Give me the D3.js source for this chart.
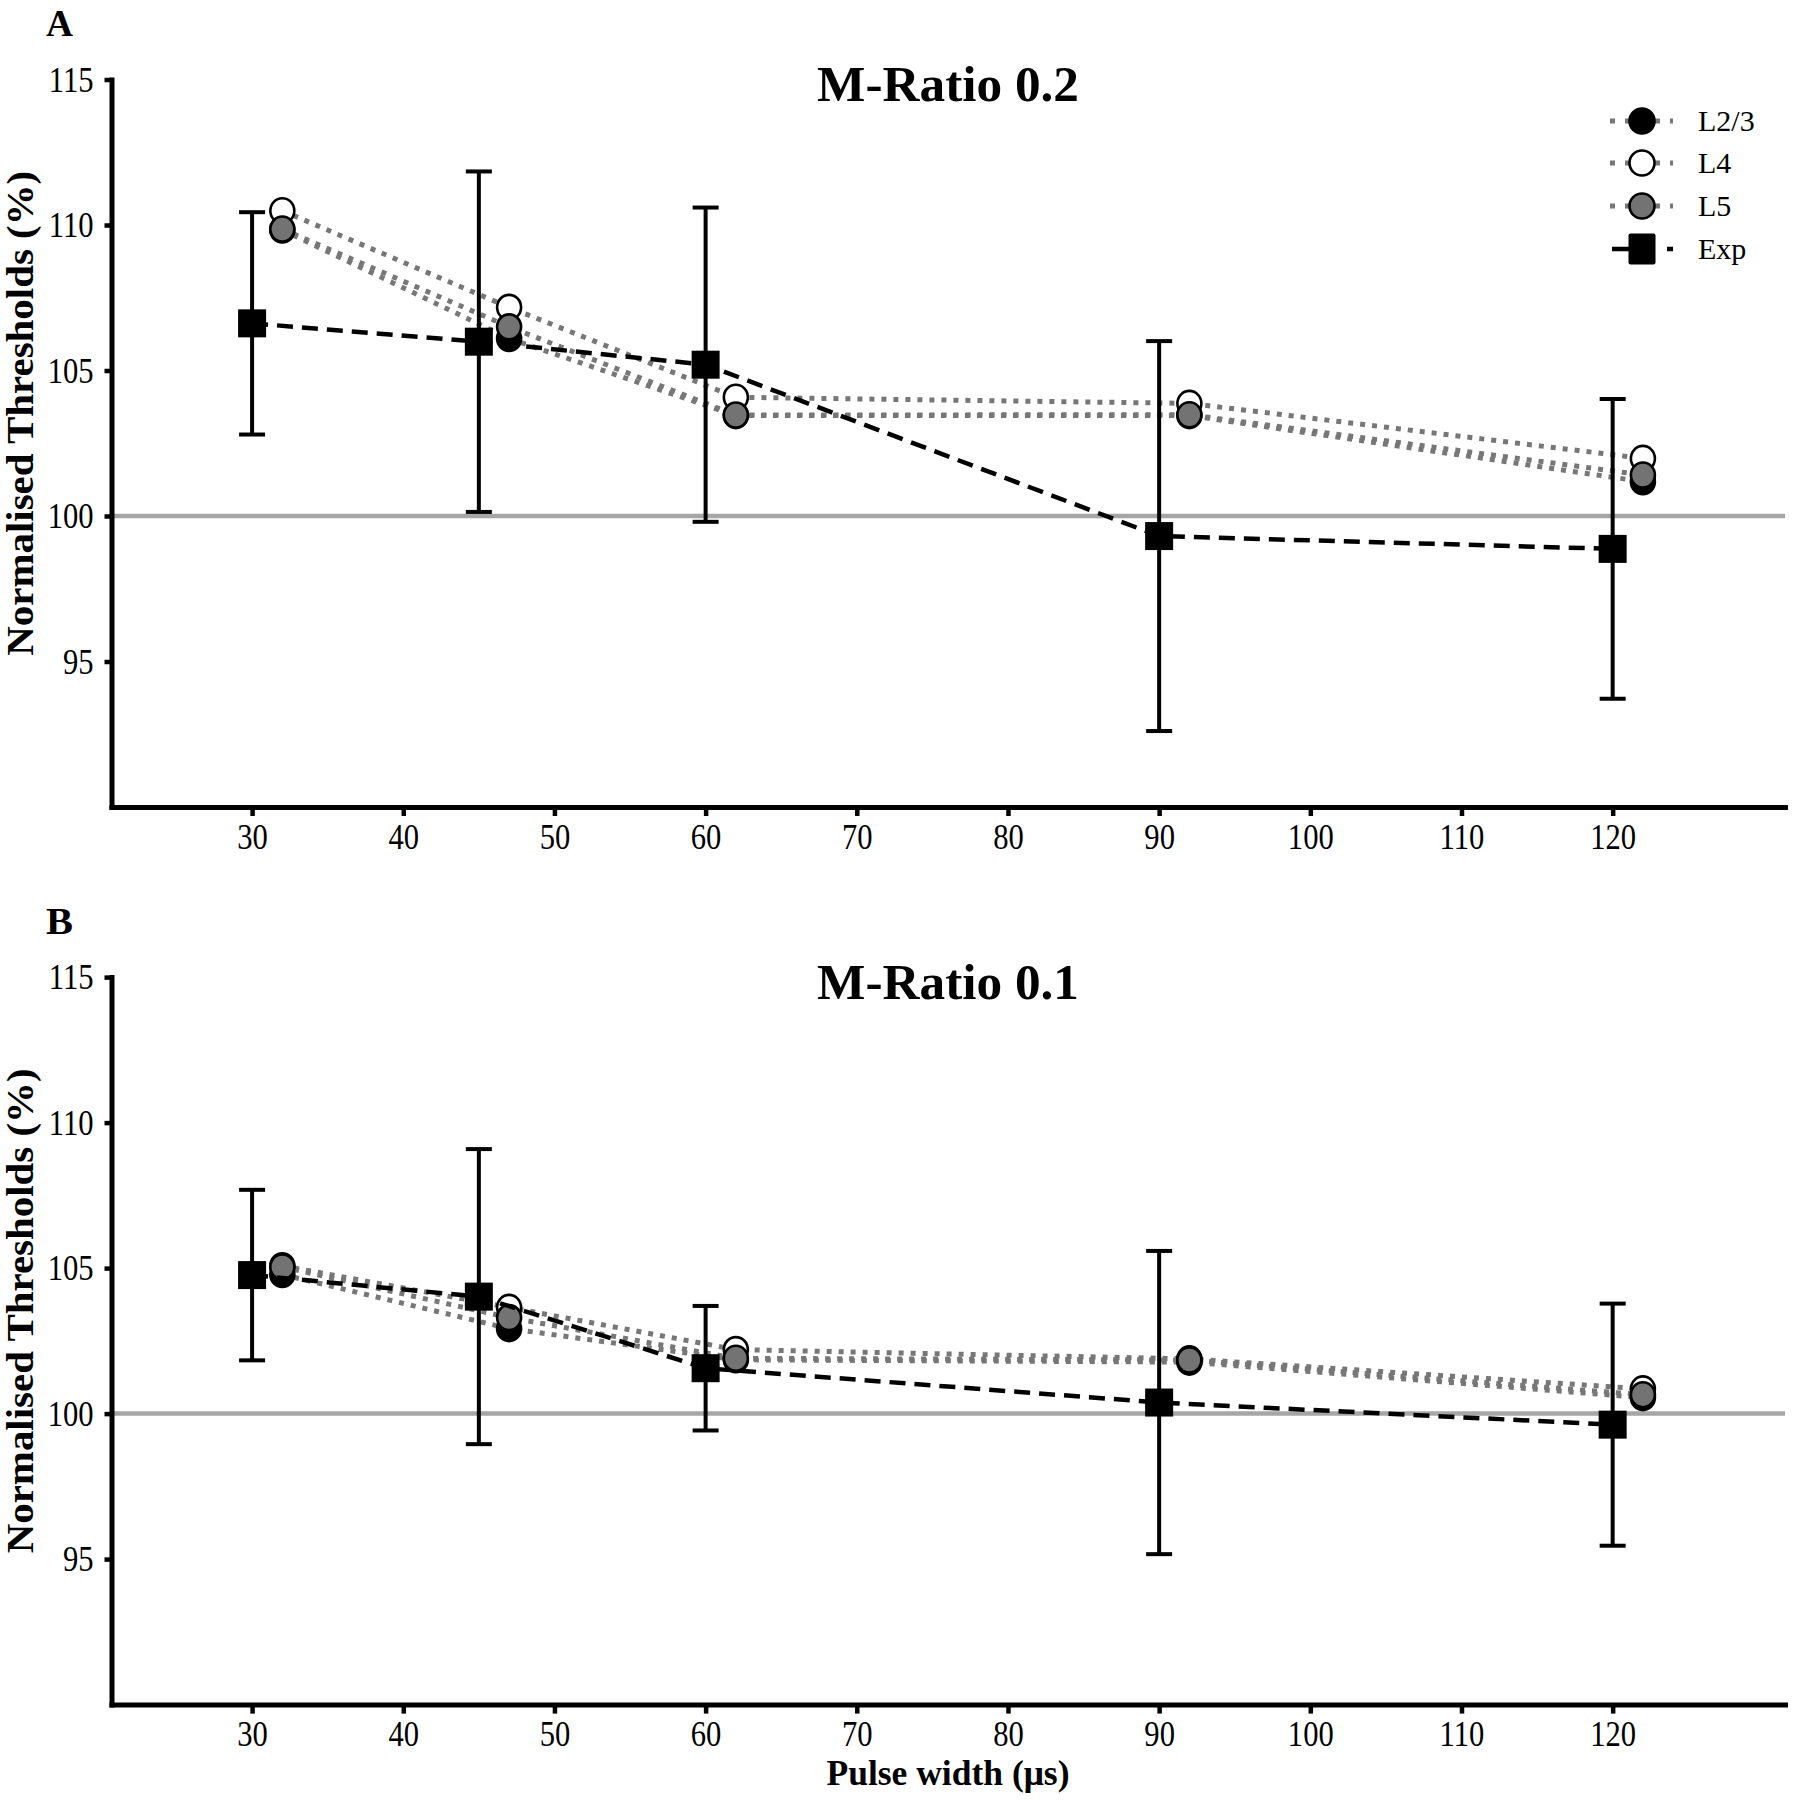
<!DOCTYPE html>
<html><head><meta charset="utf-8">
<script src="https://cdn.jsdelivr.net/npm/d3@7"></script>
<style>
body{margin:0;background:#fff}
text{font-family:"Liberation Serif","Times New Roman",serif;fill:#000}
</style>
</head><body>
<svg id="chart" width="1793" height="1800"></svg>
<script>
// ---------- data ----------
const pulseWidths = [30, 45, 60, 90, 120];        // experimental x
const modelPulseWidths = [32, 47, 62, 92, 122];   // model points (plotted offset)
const xTicks = [30, 40, 50, 60, 70, 80, 90, 100, 110, 120];
const yTicks = [95, 100, 105, 110, 115];

// Panel A: M-Ratio 0.2
const expA    = [106.62, 105.99, 105.20, 99.31, 98.87];
const expErrA = [3.82, 5.85, 5.40, 6.70, 5.15];
const l23A    = [109.83, 106.10, 103.45, 103.45, 101.18];
const l4A     = [110.49, 107.17, 104.08, 103.87, 101.98];
const l5A     = [109.86, 106.50, 103.47, 103.48, 101.41];

// Panel B: M-Ratio 0.1
const expB    = [104.76, 104.02, 101.56, 100.38, 99.62];
const expErrB = [2.93, 5.07, 2.14, 5.21, 4.16];
const l23B    = [104.78, 102.92, 101.85, 101.77, 100.55];
const l4B     = [105.08, 103.65, 102.20, 101.88, 100.85];
const l5B     = [105.04, 103.30, 101.90, 101.84, 100.65];

const legendLabels = ["L2/3", "L4", "L5", "Exp"];
const panels = [
  {letter: "A", title: "M-Ratio 0.2", exp: expA, err: expErrA, l23: l23A, l4: l4A, l5: l5A, legend: true, xlabel: false},
  {letter: "B", title: "M-Ratio 0.1", exp: expB, err: expErrB, l23: l23B, l4: l4B, l5: l5B, legend: false, xlabel: true}
];

// ---------- drawing ----------
const svg = d3.select("#chart");
const x = d3.scaleLinear().domain([20.7, 131.4]).range([111.5, 1785]);
const y = d3.scaleLinear().domain([90, 115]).range([807, 79.5]);
const panelOffset = 897.6;
const condense = 0.85;

const modelStyles = [
  {key: "l23", fill: "#000"},
  {key: "l4", fill: "#fff"},
  {key: "l5", fill: "#737373"}
];
const dotColor = "#777";

panels.forEach((p, pi) => {
  const g = svg.append("g").attr("transform", `translate(0,${pi * panelOffset})`);

  // panel letter
  g.append("text").attr("x", 46).attr("y", 36)
    .attr("textLength", 27).attr("lengthAdjust", "spacingAndGlyphs")
    .style("font-size", "38px").style("font-weight", "bold").text(p.letter);

  // title
  g.append("text").attr("x", 948).attr("y", 101).attr("text-anchor", "middle")
    .attr("textLength", 262).attr("lengthAdjust", "spacingAndGlyphs")
    .style("font-size", "51px").style("font-weight", "bold").text(p.title);

  // reference line at 100
  g.append("line")
    .attr("x1", x.range()[0]).attr("x2", x.range()[1])
    .attr("y1", y(100)).attr("y2", y(100))
    .attr("stroke", "#a6a6a6").attr("stroke-width", 4.5);

  // axes
  const xAxis = g.append("g").attr("transform", `translate(0,${y.range()[0]})`)
    .call(d3.axisBottom(x).tickValues(xTicks).tickSize(9).tickPadding(7).tickSizeOuter(0).tickFormat(d3.format("d")));
  const yAxis = g.append("g").attr("transform", `translate(${x.range()[0]},0)`)
    .call(d3.axisLeft(y).tickValues(yTicks).tickSize(7).tickPadding(11).tickSizeOuter(0).tickFormat(d3.format("d")));
  [xAxis, yAxis].forEach(a => {
    a.select(".domain").attr("stroke", "#000").attr("stroke-width", 5).attr("stroke-linecap", "square");
    a.selectAll(".tick line").attr("stroke", "#000").attr("stroke-width", 4.5);
    a.selectAll(".tick text").style("font-size", "36px").style("font-family", '"Liberation Serif", serif')
      .attr("fill", "#000").attr("transform", `scale(${condense},1)`);
  });
  yAxis.selectAll(".tick text").attr("x", -18 / condense);

  // y label
  g.append("text")
    .attr("transform", `translate(33,${(y.range()[0] + y.range()[1]) / 2 - 30}) rotate(-90)`)
    .attr("text-anchor", "middle")
    .attr("textLength", 485).attr("lengthAdjust", "spacingAndGlyphs")
    .style("font-size", "37px").style("font-weight", "bold")
    .text("Normalised Thresholds (%)");

  if (p.xlabel) {
    g.append("text").attr("x", 948).attr("y", 1785 - panelOffset).attr("text-anchor", "middle")
      .attr("textLength", 243).attr("lengthAdjust", "spacingAndGlyphs")
      .style("font-size", "35px").style("font-weight", "bold")
      .text("Pulse width (μs)");
  }

  // model lines
  const line = d3.line().x(d => x(d[0])).y(d => y(d[1]));
  modelStyles.forEach(ms => {
    const pts = modelPulseWidths.map((w, i) => [w, p[ms.key][i]]);
    g.append("path").attr("d", line(pts)).attr("fill", "none")
      .attr("stroke", dotColor).attr("stroke-width", 5).attr("stroke-dasharray", "5,7");
  });

  // error bars
  const eb = g.append("g").attr("stroke", "#000").attr("stroke-width", 4);
  pulseWidths.forEach((w, i) => {
    const lo = p.exp[i] - p.err[i], hi = p.exp[i] + p.err[i];
    eb.append("line").attr("x1", x(w)).attr("x2", x(w)).attr("y1", y(lo)).attr("y2", y(hi));
    eb.append("line").attr("x1", x(w) - 13).attr("x2", x(w) + 13).attr("y1", y(lo)).attr("y2", y(lo));
    eb.append("line").attr("x1", x(w) - 13).attr("x2", x(w) + 13).attr("y1", y(hi)).attr("y2", y(hi));
  });

  // model points
  modelStyles.forEach(ms => {
    g.append("g").selectAll("ellipse").data(modelPulseWidths.map((w, i) => [w, p[ms.key][i]]))
      .join("ellipse")
      .attr("cx", d => x(d[0])).attr("cy", d => y(d[1])).attr("rx", 12).attr("ry", 12.5)
      .attr("fill", ms.fill).attr("stroke", "#000").attr("stroke-width", 2.6);
  });

  // exp line
  const expPts = pulseWidths.map((w, i) => [w, p.exp[i]]);
  g.append("path").attr("d", line(expPts)).attr("fill", "none")
    .attr("stroke", "#000").attr("stroke-width", 4.5).attr("stroke-dasharray", "16,9");

  // exp squares
  g.append("g").selectAll("rect").data(expPts).join("rect")
    .attr("x", d => x(d[0]) - 14).attr("y", d => y(d[1]) - 14)
    .attr("width", 28).attr("height", 28).attr("fill", "#000");

  // legend
  if (p.legend) {
    const ly = [121, 163, 206, 249];
    const lg = g.append("g");
    legendLabels.forEach((lab, i) => {
      const item = lg.append("g").attr("transform", `translate(0,${ly[i]})`);
      if (i < 3) {
        item.append("line").attr("x1", 1610).attr("x2", 1673).attr("y1", 0).attr("y2", 0)
          .attr("stroke", dotColor).attr("stroke-width", 5).attr("stroke-dasharray", "5,10");
        item.append("circle").attr("cx", 1642).attr("cy", 0).attr("r", 12.5)
          .attr("fill", modelStyles[i].fill).attr("stroke", "#000").attr("stroke-width", 2.6);
      } else {
        item.append("line").attr("x1", 1612).attr("x2", 1673).attr("y1", 0).attr("y2", 0)
          .attr("stroke", "#000").attr("stroke-width", 4.5).attr("stroke-dasharray", "20,35,6");
        item.append("rect").attr("x", 1642 - 13.5).attr("y", -15.5).attr("width", 27).attr("height", 31)
          .attr("rx", 2).attr("fill", "#000");
      }
      item.append("text").attr("x", 1698).attr("y", 10)
        .style("font-size", "30px").text(lab);
    });
  }
});
</script>
</body></html>
